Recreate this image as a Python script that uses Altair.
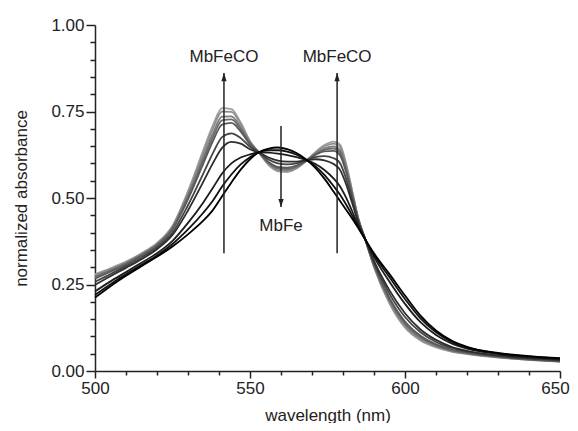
import altair as alt
import pandas as pd

# wavelengths (nm)
wavelength = [500, 505, 510, 515, 520, 525, 530, 535, 538, 541, 544, 547, 550, 553, 556, 559, 562,
              565, 568, 571, 574, 577, 579, 581, 583, 585, 587, 590, 595, 600, 605, 610, 615, 620,
              630, 640, 650]

# spectra, from MbFe (black) to MbFeCO (light grey)
spec_0 = [.212, .245, .275, .303, .330, .360, .395, .435, .465, .505, .545, .582, .612, .633, .643, .646, .641, .630, .612, .588, .556, .518, .492, .466, .440, .412, .383, .340, .280, .218, .160, .117, .088, .070, .052, .043, .037]
spec_1 = [.220, .251, .280, .307, .334, .367, .409, .458, .492, .533, .568, .597, .618, .633, .638, .638, .634, .625, .611, .593, .567, .534, .510, .481, .449, .415, .383, .336, .271, .208, .152, .112, .085, .068, .051, .042, .036]
spec_2 = [.230, .259, .286, .313, .340, .376, .428, .488, .529, .571, .600, .617, .626, .632, .631, .628, .624, .618, .610, .599, .581, .556, .534, .501, .461, .419, .384, .330, .258, .194, .141, .104, .080, .065, .049, .040, .034]
spec_3 = [.249, .274, .298, .323, .352, .393, .464, .548, .600, .645, .662, .657, .641, .631, .617, .608, .605, .605, .609, .612, .609, .598, .582, .540, .484, .427, .384, .318, .233, .167, .120, .090, .070, .058, .045, .037, .032]
spec_4 = [.258, .280, .303, .328, .357, .400, .479, .572, .629, .676, .687, .673, .648, .631, .611, .600, .597, .600, .608, .618, .621, .615, .601, .556, .494, .431, .384, .313, .223, .156, .112, .084, .067, .056, .043, .036, .030]
spec_5 = [.267, .287, .308, .333, .362, .409, .496, .601, .664, .712, .717, .692, .655, .631, .604, .590, .588, .594, .607, .624, .635, .636, .624, .575, .505, .435, .385, .308, .211, .143, .102, .077, .062, .053, .042, .034, .029]
spec_6 = [.271, .290, .310, .335, .364, .412, .503, .611, .676, .724, .727, .699, .658, .630, .602, .587, .584, .591, .607, .626, .639, .643, .632, .581, .509, .436, .385, .306, .207, .138, .098, .075, .061, .052, .041, .034, .028]
spec_7 = [.273, .292, .312, .336, .366, .414, .508, .620, .686, .735, .736, .704, .660, .630, .600, .584, .582, .590, .607, .628, .643, .649, .639, .587, .512, .437, .385, .304, .204, .134, .095, .073, .059, .051, .040, .033, .028]
spec_8 = [.277, .295, .314, .339, .368, .418, .515, .632, .700, .750, .749, .713, .663, .630, .597, .580, .578, .587, .606, .630, .649, .657, .649, .595, .517, .439, .385, .302, .198, .129, .091, .070, .057, .050, .040, .032, .027]
spec_9 = [.280, .297, .316, .340, .370, .420, .520, .640, .710, .760, .757, .718, .665, .630, .595, .577, .575, .585, .606, .632, .653, .663, .655, .600, .520, .440, .385, .300, .195, .125, .088, .068, .056, .049, .039, .032, .027]

curve_colors = ["#000000", "#111111", "#1c1c1c", "#2e2e2e", "#444444",
                "#5a5a5a", "#6c6c6c", "#7c7c7c", "#8e8e8e", "#a0a0a0"]

# axis ticks
x_ticks = [500, 510, 520, 530, 540, 550, 560, 570, 580, 590, 600, 610, 620, 630, 640, 650]
y_ticks = [0.0, 0.05, 0.1, 0.15, 0.2, 0.25, 0.3, 0.35, 0.4, 0.45, 0.5, 0.55, 0.6, 0.65,
           0.7, 0.75, 0.8, 0.85, 0.9, 0.95, 1.0]

# annotations
arrow_x = [541.6, 578.1, 560.0]
arrow_from = [0.34, 0.34, 0.708]
arrow_to = [0.861, 0.861, 0.474]
label_text = ["MbFeCO", "MbFeCO", "MbFe"]
label_y = [0.907, 0.907, 0.420]

FONT = "Liberation Sans"
INK = "#222222"

x_axis = alt.Axis(
    values=x_ticks, title="wavelength (nm)", grid=False,
    labelExpr="datum.value % 50 == 0 ? datum.label : ''",
    labelOverlap=False, labelFlush=False,
    labelOffset={"condition": {"test": "datum.value == 650", "value": -5}, "value": 0},
    tickSize={"condition": {"test": "datum.value % 50 == 0", "value": 7}, "value": 4},
    labelPadding=2, titleY=44, titleBaseline="middle",
)
y_axis = alt.Axis(
    values=y_ticks, title="normalized absorbance", grid=False,
    labelExpr="abs(datum.value*4 - round(datum.value*4)) < 0.001 ? format(datum.value, '.2f') : ''",
    labelOverlap=False, labelFlush=False,
    tickSize={"condition": {"test": "abs(datum.value*4 - round(datum.value*4)) < 0.001", "value": 9}, "value": 5},
    labelPadding=2, titleX=-74, titleBaseline="middle",
)

x_enc = alt.X("wl:Q", scale=alt.Scale(domain=[500, 650], nice=False, zero=False), axis=x_axis)
y_enc = alt.Y("a:Q", scale=alt.Scale(domain=[0, 1], nice=False), axis=y_axis)

spectra = [spec_0, spec_1, spec_2, spec_3, spec_4, spec_5, spec_6, spec_7, spec_8, spec_9]
layers = []
for i in reversed(range(len(spectra))):
    df = pd.DataFrame({"wl": wavelength, "a": spectra[i]})
    layers.append(
        alt.Chart(df).mark_line(color=curve_colors[i], strokeWidth=1.8, interpolate="monotone")
        .encode(x=x_enc, y=y_enc)
    )

arr = pd.DataFrame({"wl": arrow_x, "a": arrow_from, "a2": arrow_to})
rules = alt.Chart(arr).mark_rule(color=INK, strokeWidth=1.5).encode(x=x_enc, y=y_enc, y2="a2:Q")

up = pd.DataFrame({"wl": arrow_x[:2], "a": arrow_to[:2]})
heads_up = alt.Chart(up).mark_point(
    shape="M0,0L-0.75,2.3L0.75,2.3Z", size=49, filled=True, color=INK, opacity=1
).encode(x=x_enc, y=y_enc)
down = pd.DataFrame({"wl": arrow_x[2:], "a": arrow_to[2:]})
heads_down = alt.Chart(down).mark_point(
    shape="M0,0L-0.75,-2.3L0.75,-2.3Z", size=49, filled=True, color=INK, opacity=1
).encode(x=x_enc, y=y_enc)

lab = pd.DataFrame({"wl": arrow_x, "a": label_y, "t": label_text})
labels = alt.Chart(lab).mark_text(
    font=FONT, fontSize=17, color=INK, align="center", baseline="middle"
).encode(x=x_enc, y=y_enc, text="t:N")

chart = alt.layer(*layers, rules, heads_up, heads_down, labels).properties(
    width=465, height=346,
    autosize=alt.AutoSizeParams(type="none"),
    padding={"left": 87, "top": 17, "right": 10, "bottom": 52},
).configure_view(stroke=None).configure_axis(
    labelFont=FONT, titleFont=FONT, labelFontSize=17, titleFontSize=17,
    labelColor=INK, titleColor=INK, titleFontWeight="normal",
    domainColor=INK, tickColor=INK, domainWidth=1.5, tickWidth=1.5,
)

chart.save("out.html", embed_options={"renderer": "svg", "actions": False})
